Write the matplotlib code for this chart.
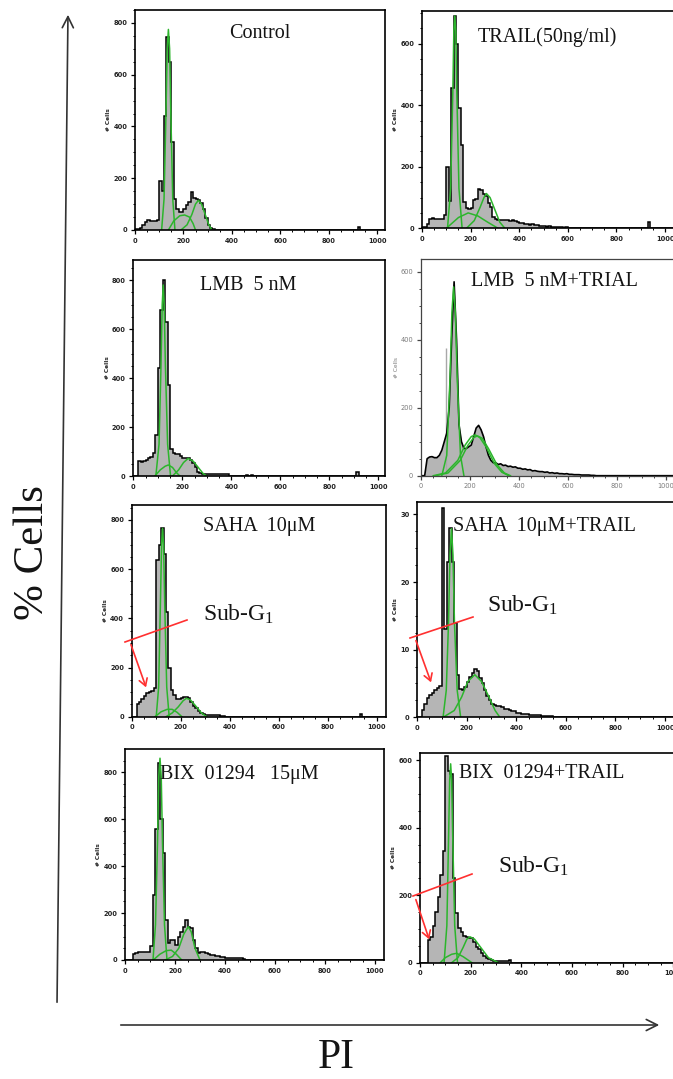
import numpy as np
import matplotlib
matplotlib.use("Agg")
import matplotlib.pyplot as plt
from matplotlib.ticker import MultipleLocator

plt.rcParams["mathtext.fontset"] = "custom"
plt.rcParams["mathtext.rm"] = "Liberation Serif"
plt.rcParams["mathtext.it"] = "Liberation Serif:italic"

W, H, DPI = 673, 1079, 100
BIN = 10          # PI channels per histogram bin
SERIF = "Liberation Serif"
GRAY = "#b5b5b5"
GREEN = "#2cb52c"
RED = "#ff3030"

# ---------------- cell-cycle histograms (counts per 10-channel bin from channel 0) ----------------
control_counts = [5, 5, 8, 20, 30, 40, 35, 35, 35, 40, 190, 150, 440, 745, 650, 340, 120, 80, 70, 70,
                  80, 95, 110, 145, 125, 118, 115, 105, 80, 45, 20, 8, 3]
control_blip_ch, control_blip_n = [920], [12]
control_fit_x = [[110, 120, 128, 133, 138, 143, 148, 156, 165],
                 [138, 160, 185, 205, 225, 240, 250],
                 [190, 215, 235, 250, 262, 275, 290, 305, 318]]
control_fit_y = [[0, 120, 450, 700, 775, 700, 450, 120, 0],
                 [0, 35, 55, 58, 50, 25, 0],
                 [0, 20, 60, 100, 115, 100, 60, 20, 0]]

trail_counts = [5, 5, 15, 30, 32, 30, 30, 30, 30, 43, 199, 90, 457, 690, 600, 390, 270, 86, 65, 62,
                65, 91, 95, 129, 125, 113, 105, 81, 70, 38, 30, 27, 27, 28, 26, 27, 25, 27, 24, 22,
                18, 16, 14, 15, 12, 14, 10, 12, 9, 8, 6, 5, 6, 4, 5, 3, 4, 3, 2, 3, 2, 2, 2, 1, 2, 1]
trail_blip_ch, trail_blip_n = [932], [20]
trail_fit_x = [[105, 118, 127, 131, 135, 139, 143, 152, 165],
               [100, 150, 190, 230, 270, 313],
               [183, 215, 240, 255, 265, 280, 300, 320, 341]]
trail_fit_y = [[0, 130, 450, 640, 690, 640, 450, 130, 0],
               [0, 35, 50, 40, 20, 0],
               [0, 25, 70, 100, 113, 100, 60, 20, 0]]

lmb_counts = [0, 0, 60, 58, 62, 65, 72, 79, 95, 167, 440, 678, 800, 630, 371, 110, 92, 90, 88, 80,
              75, 72, 72, 65, 52, 35, 18, 12, 10, 8, 8, 7, 7, 7, 7, 7, 7, 7, 7]
lmb_blip_ch, lmb_blip_n = [463, 483, 918], [5, 5, 15]
lmb_fit_x = [[92, 105, 113, 118, 122, 126, 131, 140, 152],
             [88, 110, 130, 143, 160, 175, 190],
             [160, 185, 205, 224, 245, 265, 285, 300]]
lmb_fit_y = [[0, 130, 450, 700, 780, 700, 450, 130, 0],
             [0, 25, 40, 45, 35, 15, 0],
             [0, 25, 55, 72, 60, 35, 10, 0]]

lmb_trail_counts = [0, 0, 50, 55, 56, 53, 53, 60, 75, 100, 125, 200, 400, 570, 400, 150, 100, 80, 80, 85,
                    90, 115, 140, 148, 135, 115, 85, 60, 45, 38, 38, 33, 35, 30, 31, 27, 28, 25, 26, 22,
                    22, 19, 20, 17, 18, 14, 15, 13, 12, 12, 10, 11, 8, 9, 7, 8, 6, 6, 5, 6,
                    4, 4, 3, 3, 3, 2, 2, 2, 2, 1, 1]
lmb_trail_doublet_ch, lmb_trail_doublet_n = [101], [376]
lmb_trail_fit_x = [[85, 105, 118, 126, 133, 140, 148, 161, 175],
                   [50, 100, 150, 180, 205, 221, 240, 265, 300, 330, 358],
                   [60, 110, 160, 190, 215, 230, 250, 275, 310, 340, 365]]
lmb_trail_fit_y = [[0, 60, 280, 480, 555, 480, 280, 60, 0],
                   [0, 8, 45, 90, 115, 120, 112, 85, 35, 10, 0],
                   [0, 8, 45, 88, 112, 117, 110, 80, 32, 8, 0]]

saha_counts = [0, 0, 50, 60, 72, 85, 95, 99, 105, 115, 637, 700, 766, 660, 427, 200, 110, 88, 70, 70,
               75, 80, 82, 78, 61, 45, 34, 22, 14, 10, 7, 7, 6, 5, 5, 5, 4, 4]
saha_blip_ch, saha_blip_n = [932], [10]
saha_fit_x = [[100, 110, 117, 122, 126, 130, 135, 143, 153],
              [95, 120, 145, 165, 185, 205],
              [140, 165, 190, 210, 224, 240, 260, 285, 306]]
saha_fit_y = [[0, 120, 450, 700, 766, 700, 450, 120, 0],
              [0, 20, 30, 30, 18, 0],
              [0, 15, 40, 65, 75, 68, 45, 15, 0]]

saha_trail_counts = [0, 0, 1.1, 2.0, 2.8, 3.3, 3.6, 4.0, 4.3, 4.6, 31, 13, 23, 28, 23, 14, 6.3, 4.2, 4.0, 4.5,
                     5.2, 6.0, 6.6, 7.2, 6.8, 5.8, 5.0, 4.0, 3.2, 2.6, 2.0, 1.8, 1.7, 1.6, 1.5, 1.3, 1.2, 1.1,
                     1.0, 0.9, 0.6, 0.6, 0.5, 0.5, 0.5, 0.4, 0.4, 0.3, 0.3, 0.3, 0.2, 0.2, 0.2, 0.2, 0.2]
saha_trail_blip_ch, saha_trail_blip_n = [], []
saha_trail_fit_x = [[105, 118, 127, 133, 139, 145, 151, 162, 176],
                    [105, 150, 180, 205, 233, 260, 290, 315, 334]]
saha_trail_fit_y = [[0, 4, 14, 24, 27.9, 24, 14, 4, 0],
                    [0, 1, 3, 5.3, 6.3, 5.3, 3, 1, 0]]

bix_counts = [0, 0, 0, 25, 30, 35, 35, 35, 35, 35, 60, 277, 560, 840, 600, 455, 170, 71, 85, 85,
              64, 99, 120, 142, 170, 140, 135, 85, 50, 28, 35, 35, 30, 25, 21, 21, 18, 15, 11, 11,
              10, 9, 10, 8, 9, 7, 8, 6]
bix_blip_ch, bix_blip_n = [], []
bix_fit_x = [[112, 122, 130, 135, 140, 145, 150, 158, 168],
             [113, 140, 165, 185, 205, 227],
             [160, 190, 215, 235, 253, 265, 280, 300]]
bix_fit_y = [[0, 150, 500, 780, 860, 780, 500, 150, 0],
             [0, 25, 40, 42, 25, 0],
             [0, 15, 50, 110, 142, 120, 50, 0]]

bix_trail_counts = [0, 0, 0, 67, 77, 110, 150, 196, 260, 330, 612, 570, 560, 250, 146, 102, 92, 80, 77, 72,
                    72, 60, 48, 40, 28, 20, 13, 10, 8, 6, 6, 6, 5, 5, 5, 8]
bix_trail_blip_ch, bix_trail_blip_n = [], []
bix_trail_fit_x = [[95, 106, 113, 117, 121, 125, 129, 137, 148],
                   [80, 100, 125, 145, 170, 205],
                   [125, 150, 170, 185, 197, 215, 240, 270, 309]]
bix_trail_fit_y = [[0, 110, 380, 540, 590, 540, 380, 110, 0],
                   [0, 15, 25, 28, 18, 0],
                   [0, 15, 45, 70, 77, 70, 45, 15, 0]]

titles = ["Control", "TRAIL(50ng/ml)", "LMB  5 nM", "LMB  5 nM+TRIAL",
          "SAHA  10\u03bcM", "SAHA  10\u03bcM+TRAIL", "BIX  01294   15\u03bcM", "BIX  01294+TRAIL"]

# ---------------- figure ----------------
fig = plt.figure(figsize=(W / DPI, H / DPI), dpi=DPI)


def fxy(x, y):
    """pixel position (origin top-left) -> figure fraction"""
    return (x / W, 1 - y / H)


def add_panel(left, top, right, bottom):
    return fig.add_axes([left / W, 1 - bottom / H, (right - left) / W, (bottom - top) / H])


def full_counts(counts, blip_ch, blip_n):
    n = np.zeros(105)
    n[:len(counts)] = counts
    for c, v in zip(blip_ch, blip_n):
        n[c // BIN] += v
    return n


def style_axes(ax, xmax, ymax, ystep, soft=False):
    ax.set_xlim(0, xmax)
    ax.set_ylim(0, ymax)
    ax.xaxis.set_major_locator(MultipleLocator(200))
    ax.xaxis.set_minor_locator(MultipleLocator(50))
    ax.yaxis.set_major_locator(MultipleLocator(ystep))
    ax.yaxis.set_minor_locator(MultipleLocator(ystep / 4))
    tcol = "#7a7a7a" if soft else "#222222"
    scol = "#444444" if soft else "black"
    for s in ax.spines.values():
        s.set_color(scol)
        s.set_linewidth(0.9 if soft else 1.2)
    ax.tick_params(which="major", direction="out", length=3, width=0.9, labelsize=4.8,
                   pad=2.5, colors=scol, labelcolor=tcol, top=False, right=False)
    ax.tick_params(which="minor", direction="out", length=1.6, width=0.7, colors=scol,
                   top=False, right=False)
    for lab in ax.get_xticklabels() + ax.get_yticklabels():
        lab.set_fontweight("normal" if soft else "bold")
    ax.set_ylabel("# Cells", fontsize=4.2, fontweight="normal" if soft else "bold",
                  color=tcol, labelpad=1.5)


panels = [
    (control_counts, control_blip_ch, control_blip_n, control_fit_x, control_fit_y,
     (135, 10, 385, 230), 1033, 850, 200, False),
    (trail_counts, trail_blip_ch, trail_blip_n, trail_fit_x, trail_fit_y,
     (422, 11, 675, 228.3), 1041, 706, 200, False),
    (lmb_counts, lmb_blip_ch, lmb_blip_n, lmb_fit_x, lmb_fit_y,
     (133.3, 260, 385, 476), 1027, 882, 200, False),
    (lmb_trail_counts, [], [], lmb_trail_fit_x, lmb_trail_fit_y,
     (421, 259, 676, 475.7), 1040, 637, 200, True),
    (saha_counts, saha_blip_ch, saha_blip_n, saha_fit_x, saha_fit_y,
     (131.7, 505, 386, 716.7), 1038, 861, 200, False),
    (saha_trail_counts, saha_trail_blip_ch, saha_trail_blip_n, saha_trail_fit_x, saha_trail_fit_y,
     (417, 502.3, 675, 717.3), 1040, 31.8, 10, False),
    (bix_counts, bix_blip_ch, bix_blip_n, bix_fit_x, bix_fit_y,
     (125, 749.3, 384, 960), 1036, 898, 200, False),
    (bix_trail_counts, bix_trail_blip_ch, bix_trail_blip_n, bix_trail_fit_x, bix_trail_fit_y,
     (420, 752.7, 683, 962.7), 1038, 623, 200, False),
]

for counts, bch, bn, fx, fy, box, xmax, ymax, ystep, soft in panels:
    ax = add_panel(*box)
    n = full_counts(counts, bch, bn)
    edges = np.arange(len(n) + 1) * BIN
    if soft:
        centers = edges[:-1] + BIN / 2
        ax.fill_between(centers, n, color=GRAY, lw=0)
        ax.vlines(lmb_trail_doublet_ch, 0, lmb_trail_doublet_n, color="#a8a8a8", lw=1.0)
        ax.plot(centers, n, color="black", lw=1.2)
    else:
        ax.stairs(n, edges, fill=True, color=GRAY)
        ax.stairs(n, edges, color="black", lw=1.1)
    for xs, ys in zip(fx, fy):
        ax.plot(xs, ys, color=GREEN, lw=1.1)
    style_axes(ax, xmax, ymax, ystep, soft)

# panel titles
title_pos = [(229, 33.5), (478, 37), (200, 286), (471, 281),
             (203, 527), (453, 527), (160, 774), (459, 774)]
for t, (x, y) in zip(titles, title_pos):
    fig.text(*fxy(x, y), t, family=SERIF, fontsize=14.5, ha="left", va="center", color="#141414")

# Sub-G1 call-outs
subg1 = [((203, 614), (125, 642), (187, 620), (130, 642), (147, 690)),
         ((487, 605), (410, 638), (473, 617), (415, 638), (432, 685)),
         ((498, 866), (413, 896), (472, 874), (415, 897), (430, 942))]
for (tx, ty), l0, l1, a0, a1 in subg1:
    fig.text(*fxy(tx, ty), "Sub-G$_{1}$", family=SERIF, fontsize=17, ha="left", va="center",
             color="#141414")
    fig.add_artist(plt.Line2D([l0[0] / W, l1[0] / W], [1 - l0[1] / H, 1 - l1[1] / H],
                              color=RED, lw=1.2, transform=fig.transFigure))
    fig.add_artist(matplotlib.patches.FancyArrowPatch(fxy(*a0), fxy(*a1), transform=fig.transFigure,
                                                      arrowstyle="->,head_length=5,head_width=3",
                                                      color=RED, lw=1.2))

# overall axis arrows and labels
fig.add_artist(matplotlib.patches.FancyArrowPatch(fxy(57, 1005), fxy(68, 12), transform=fig.transFigure,
                                                  arrowstyle="->,head_length=8,head_width=4",
                                                  color="#333333", lw=1.2))
fig.add_artist(matplotlib.patches.FancyArrowPatch(fxy(118, 1025), fxy(662, 1025), transform=fig.transFigure,
                                                  arrowstyle="->,head_length=8,head_width=4",
                                                  color="#333333", lw=1.2))
fig.text(*fxy(33, 553), "% Cells", family=SERIF, fontsize=31, rotation=90, ha="center", va="center",
         color="#141414")
fig.text(*fxy(336, 1058), "PI", family=SERIF, fontsize=30, ha="center", va="center", color="#141414")

fig.savefig("out.png", dpi=DPI)
